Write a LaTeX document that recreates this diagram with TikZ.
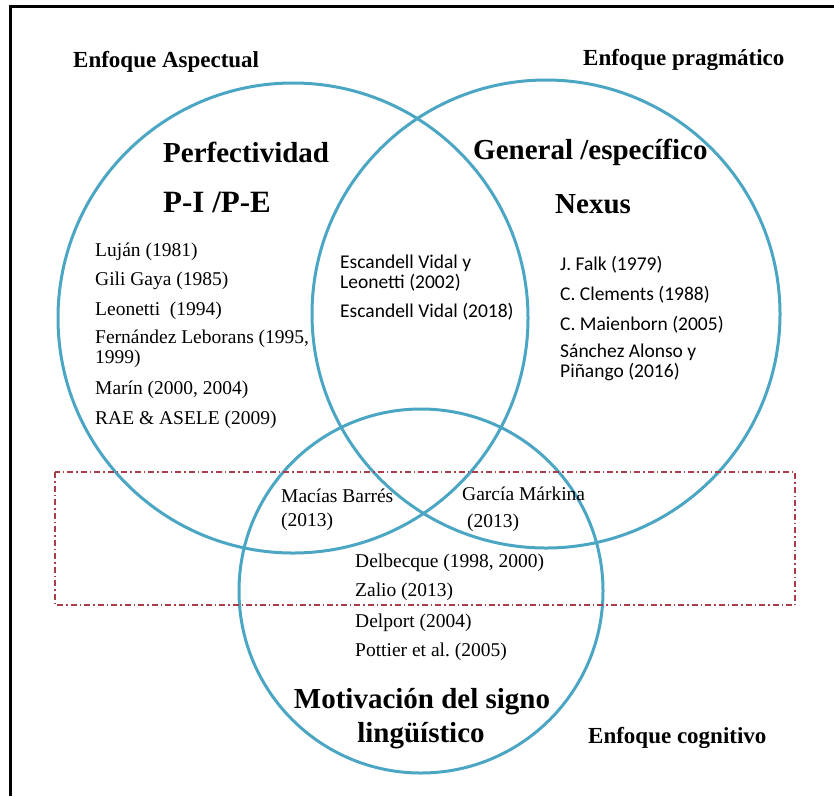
\documentclass[tikz,border=0pt]{standalone}
\usepackage{fontspec}
\setmainfont{Liberation Serif}
\newfontfamily\calibri{Carlito}
\definecolor{azul}{RGB}{75,166,196}
\definecolor{rojo}{RGB}{170,60,75}
\frenchspacing
\begin{document}
\begin{tikzpicture}[x=1pt, y=-1pt]
			\tikzset{circulo/.style={circle, draw=azul, line width=3pt, inner sep=0pt},
			titulo/.style={font=\bfseries\fontsize{29}{34}\selectfont, anchor=west, inner sep=0pt},
			enfoque/.style={font=\bfseries\fontsize{23}{24}\selectfont, anchor=west, inner sep=0pt},
			autor/.style={font=\fontsize{19.5}{20}\selectfont, anchor=west, align=left, inner sep=0pt},
			autorc/.style={font=\calibri\fontsize{19.5}{20}\selectfont, anchor=west, align=left, inner sep=0pt}};

			\useasboundingbox (0,0) rectangle (834,796);
			\draw[line width=3pt] (10,796) -- (10,6) -- (834,6);

			\node[circulo, minimum size=470pt] (asp) at (293,318) {};
			\node[circulo, minimum size=468pt] (prag) at (546,314) {};
			\node[circulo, minimum size=364pt] (cog) at (421,591) {};

			\draw[rojo, line width=1.2pt, dash pattern=on 6pt off 3pt on 1.5pt off 3pt] (55,472) rectangle (795,605);

			\node[enfoque] (e-asp) at (73,62) {Enfoque Aspectual};
			\node[enfoque] (e-prag) at (583,60) {Enfoque pragmático};
			\node[enfoque] (e-cog) at (588,738) {Enfoque cognitivo};

			\node[titulo] (t-perf) at (163,152) {Perfectividad};
			\node[titulo, font=\bfseries\fontsize{31}{34}\selectfont] (t-pipe) at (163,202) {P-I /P-E};
			\node[titulo] (t-gen) at (473,152) {General /específico};
			\node[titulo] (t-nexus) at (555,204) {Nexus};
			\node[titulo, anchor=center] (t-mot) at (422,702) {Motivación del signo};
			\node[titulo, anchor=center] (t-ling) at (421,736) {lingüístico};

			\foreach \name/\y/\texto in {lujan/252/{Luján (1981)}, gili/281/{Gili Gaya (1985)},
				leo/311/{Leonetti~~(1994)}, fern/349/{Fernández Leborans (1995,\\1999)},
				marin/390/{Marín (2000, 2004)}, rae/420/{RAE \& ASELE (2009)}}{
				\node[autor] (a-\name) at (95,\y) {\texto};
			}

			\foreach \name/\y/\texto in {esc/273/{Escandell Vidal y\\Leonetti (2002)}, esc2/312/{Escandell Vidal (2018)}}{
				\node[autorc] (m-\name) at (340,\y) {\texto};
			}

			\foreach \name/\y/\texto in {falk/265/{J. Falk (1979)}, clem/295/{C. Clements (1988)},
				maien/325/{C. Maienborn (2005)}, sanchez/362/{Sánchez Alonso y\\Piñango (2016)}}{
				\node[autorc] (p-\name) at (560,\y) {\texto};
			}

			\node[autor, font=\fontsize{19.5}{24}\selectfont] (macias) at (281,510) {Macías Barrés\\(2013)};
			\node[autor, font=\fontsize{19.5}{27}\selectfont] (garcia) at (462,509) {García Márkina\\\ (2013)};

			\foreach \name/\y/\texto in {delb/563/{Delbecque (1998, 2000)}, zalio/592/{Zalio (2013)},
				delp/623/{Delport (2004)}, pott/652/{Pottier et al. (2005)}}{
				\node[autor] (c-\name) at (355,\y) {\texto};
			}

		\end{tikzpicture}
\end{document}
